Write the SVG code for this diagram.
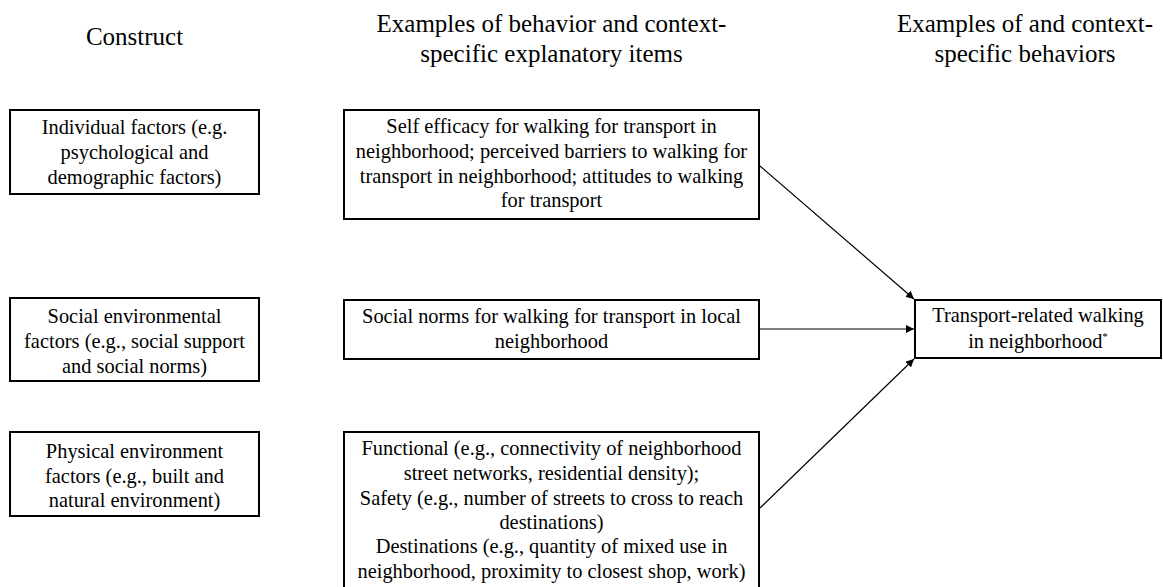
<svg xmlns="http://www.w3.org/2000/svg" width="1163" height="587" viewBox="0 0 1163 587">
<style>
text{font-family:"Liberation Serif","Times New Roman",serif;fill:#000;text-anchor:middle}
.h{font-size:25px}
.t{font-size:20.4px}
.box{fill:#fff;stroke:#000;stroke-width:2}
.conn{stroke:#000;stroke-width:1.2;fill:none}
</style>
<defs>
<marker id="ah" viewBox="0 0 10 10" refX="10" refY="5" markerWidth="8" markerHeight="8" markerUnits="userSpaceOnUse" orient="auto">
<path d="M0,0 L10,5 L0,10 z" fill="#000"/>
</marker>
</defs>
<rect width="1163" height="587" fill="#fff"/>
<g id="headers">
<text class="h" x="134.5" y="45">Construct</text>
<text class="h" x="551.5" y="32">Examples of behavior and context-</text>
<text class="h" x="551.5" y="62">specific explanatory items</text>
<text class="h" x="1025" y="32">Examples of and context-</text>
<text class="h" x="1025" y="62">specific behaviors</text>
</g>
<g id="individual">
<rect class="box" x="10" y="110" width="249" height="84"/>
<text class="t" x="134.5" y="134">Individual factors (e.g.</text>
<text class="t" x="134.5" y="159">psychological and</text>
<text class="t" x="134.5" y="184">demographic factors)</text>
</g>
<g id="social">
<rect class="box" x="10" y="298" width="249" height="83"/>
<text class="t" x="134.5" y="323">Social environmental</text>
<text class="t" x="134.5" y="348">factors (e.g., social support</text>
<text class="t" x="134.5" y="373">and social norms)</text>
</g>
<g id="physical">
<rect class="box" x="10" y="432" width="249" height="84"/>
<text class="t" x="134.5" y="458">Physical environment</text>
<text class="t" x="134.5" y="483">factors (e.g., built and</text>
<text class="t" x="134.5" y="507">natural environment)</text>
</g>
<g id="selfefficacy">
<rect class="box" x="344" y="110" width="415" height="109"/>
<text class="t" x="551.5" y="133">Self efficacy for walking for transport in</text>
<text class="t" x="551.5" y="158">neighborhood; perceived barriers to walking for</text>
<text class="t" x="551.5" y="183">transport in neighborhood; attitudes to walking</text>
<text class="t" x="551.5" y="207">for transport</text>
</g>
<g id="socialnorms">
<rect class="box" x="344" y="300" width="415" height="59"/>
<text class="t" x="551.5" y="323">Social norms for walking for transport in local</text>
<text class="t" x="551.5" y="348">neighborhood</text>
</g>
<g id="physicalitems">
<rect class="box" x="344" y="432" width="415" height="170"/>
<text class="t" x="551.5" y="455">Functional (e.g., connectivity of neighborhood</text>
<text class="t" x="551.5" y="480">street networks, residential density);</text>
<text class="t" x="551.5" y="505">Safety (e.g., number of streets to cross to reach</text>
<text class="t" x="551.5" y="529">destinations)</text>
<text class="t" x="551.5" y="553">Destinations (e.g., quantity of mixed use in</text>
<text class="t" x="551.5" y="578">neighborhood, proximity to closest shop, work)</text>
</g>
<g id="walking">
<rect class="box" x="915" y="300" width="246" height="58"/>
<text class="t" x="1038" y="322">Transport-related walking</text>
<text class="t" x="1038" y="348">in neighborhood<tspan font-size="11" dy="-8">*</tspan></text>
</g>
<g id="connectors">
<line class="conn" x1="760" y1="166" x2="914" y2="299" marker-end="url(#ah)"/>
<line class="conn" x1="760" y1="329" x2="914" y2="329" marker-end="url(#ah)"/>
<line class="conn" x1="760" y1="508" x2="914" y2="359" marker-end="url(#ah)"/>
</g>
</svg>
